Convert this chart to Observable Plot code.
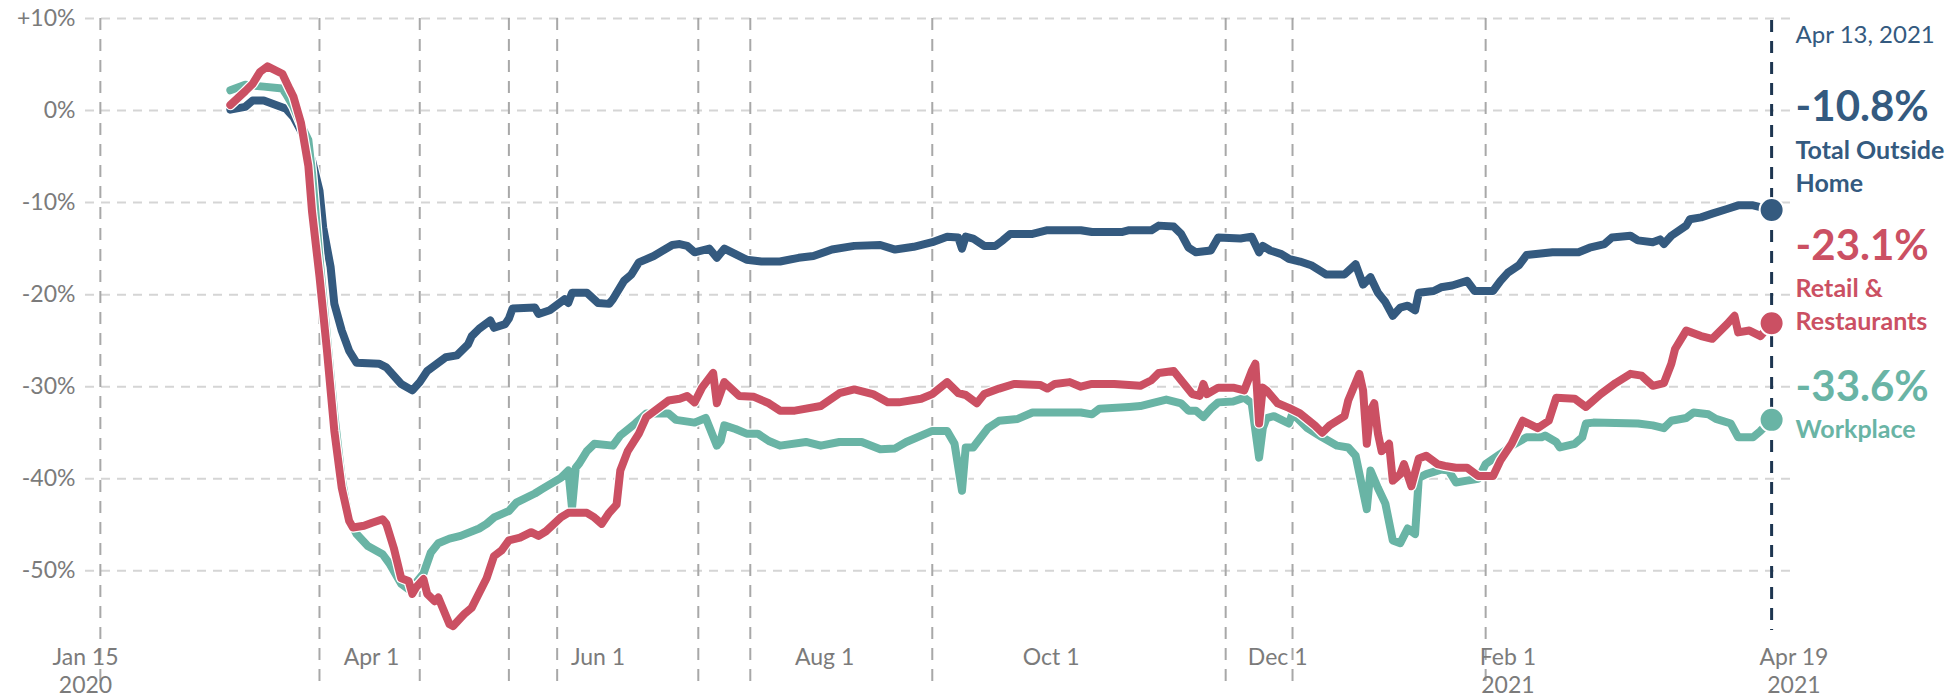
<!DOCTYPE html>
<html><head><meta charset="utf-8">
<script src="https://cdn.jsdelivr.net/npm/d3@7"></script>
<script src="https://cdn.jsdelivr.net/npm/@observablehq/plot@0.6"></script>
<style>
html,body{margin:0;padding:0;background:#fff;}
#chart svg{display:block;}
</style></head><body><div id="chart"></div>
<script>
// ---- data ----
const totalSeries = [["2020-02-23",0.1],["2020-02-27",0.4],["2020-02-29",1.1],["2020-03-03",1.1],["2020-03-07",0.5],["2020-03-09",0.2],["2020-03-11",-0.7],["2020-03-13",-2.2],["2020-03-16",-5.4],["2020-03-18",-8.7],["2020-03-19",-12.7],["2020-03-21",-17],["2020-03-22",-21],["2020-03-24",-23.9],["2020-03-26",-26.1],["2020-03-28",-27.4],["2020-04-03",-27.5],["2020-04-05",-27.9],["2020-04-09",-29.7],["2020-04-12",-30.4],["2020-04-14",-29.5],["2020-04-16",-28.3],["2020-04-19",-27.4],["2020-04-21",-26.8],["2020-04-24",-26.6],["2020-04-27",-25.4],["2020-04-28",-24.5],["2020-04-30",-23.7],["2020-05-03",-22.8],["2020-05-04",-23.6],["2020-05-07",-23.2],["2020-05-08",-22.6],["2020-05-09",-21.5],["2020-05-15",-21.4],["2020-05-16",-22.1],["2020-05-19",-21.7],["2020-05-23",-20.5],["2020-05-24",-20.9],["2020-05-25",-19.8],["2020-05-29",-19.8],["2020-06-01",-20.9],["2020-06-04",-21],["2020-06-05",-20.5],["2020-06-08",-18.5],["2020-06-10",-17.8],["2020-06-12",-16.5],["2020-06-16",-15.8],["2020-06-21",-14.6],["2020-06-23",-14.5],["2020-06-25",-14.7],["2020-06-27",-15.4],["2020-07-01",-15],["2020-07-03",-16],["2020-07-05",-15],["2020-07-08",-15.6],["2020-07-11",-16.2],["2020-07-15",-16.4],["2020-07-20",-16.4],["2020-07-25",-16],["2020-07-29",-15.8],["2020-08-03",-15.1],["2020-08-09",-14.7],["2020-08-16",-14.6],["2020-08-20",-15.1],["2020-08-25",-14.8],["2020-08-30",-14.3],["2020-09-03",-13.7],["2020-09-06",-13.8],["2020-09-07",-15],["2020-09-08",-13.7],["2020-09-10",-13.9],["2020-09-13",-14.7],["2020-09-16",-14.7],["2020-09-18",-14.1],["2020-09-20",-13.4],["2020-09-26",-13.4],["2020-09-30",-13],["2020-10-09",-13],["2020-10-12",-13.2],["2020-10-20",-13.2],["2020-10-22",-13],["2020-10-28",-13],["2020-10-30",-12.5],["2020-11-03",-12.6],["2020-11-05",-13.4],["2020-11-07",-14.9],["2020-11-09",-15.4],["2020-11-13",-15.2],["2020-11-15",-13.8],["2020-11-21",-13.9],["2020-11-24",-13.7],["2020-11-26",-15.4],["2020-11-27",-14.7],["2020-11-29",-15.2],["2020-12-02",-15.6],["2020-12-04",-16.1],["2020-12-07",-16.4],["2020-12-10",-16.8],["2020-12-14",-17.8],["2020-12-19",-17.8],["2020-12-22",-16.7],["2020-12-24",-18.9],["2020-12-26",-18.1],["2020-12-28",-19.8],["2020-12-30",-20.8],["2021-01-01",-22.3],["2021-01-03",-21.4],["2021-01-05",-21.2],["2021-01-07",-21.7],["2021-01-08",-19.8],["2021-01-12",-19.6],["2021-01-14",-19.2],["2021-01-17",-19],["2021-01-21",-18.5],["2021-01-23",-19.6],["2021-01-28",-19.6],["2021-01-30",-18.5],["2021-02-01",-17.6],["2021-02-04",-16.8],["2021-02-06",-15.7],["2021-02-13",-15.4],["2021-02-20",-15.4],["2021-02-23",-14.9],["2021-02-27",-14.5],["2021-03-01",-13.8],["2021-03-06",-13.6],["2021-03-08",-14.1],["2021-03-12",-14.3],["2021-03-14",-14],["2021-03-15",-14.5],["2021-03-17",-13.6],["2021-03-21",-12.5],["2021-03-22",-11.8],["2021-03-25",-11.6],["2021-03-28",-11.2],["2021-04-01",-10.7],["2021-04-04",-10.3],["2021-04-08",-10.3],["2021-04-13",-10.8]];

const retailSeries = [["2020-02-23",0.6],["2020-02-27",2.1],["2020-02-29",2.9],["2020-03-02",4.2],["2020-03-04",4.8],["2020-03-08",4.0],["2020-03-10",2.3],["2020-03-11",1.5],["2020-03-13",-1.3],["2020-03-15",-6],["2020-03-16",-11],["2020-03-18",-18],["2020-03-20",-26],["2020-03-22",-34.8],["2020-03-24",-41],["2020-03-26",-44.6],["2020-03-27",-45.3],["2020-03-30",-45.1],["2020-04-01",-44.8],["2020-04-04",-44.4],["2020-04-05",-44.9],["2020-04-07",-47.5],["2020-04-09",-50.8],["2020-04-11",-51.1],["2020-04-12",-52.5],["2020-04-13",-51.8],["2020-04-15",-50.9],["2020-04-16",-52.5],["2020-04-18",-53.3],["2020-04-19",-52.9],["2020-04-22",-55.8],["2020-04-23",-56],["2020-04-26",-54.7],["2020-04-28",-54],["2020-05-02",-50.8],["2020-05-04",-48.4],["2020-05-06",-47.8],["2020-05-08",-46.7],["2020-05-11",-46.4],["2020-05-14",-45.8],["2020-05-16",-46.2],["2020-05-18",-45.7],["2020-05-22",-44.2],["2020-05-24",-43.7],["2020-05-29",-43.7],["2020-05-31",-44.2],["2020-06-02",-44.9],["2020-06-04",-43.7],["2020-06-06",-42.8],["2020-06-07",-39.1],["2020-06-09",-37],["2020-06-12",-35.1],["2020-06-14",-33.3],["2020-06-20",-31.5],["2020-06-23",-31.3],["2020-06-25",-31],["2020-06-27",-31.7],["2020-06-29",-30.1],["2020-07-02",-28.5],["2020-07-03",-31.8],["2020-07-05",-29.5],["2020-07-09",-31],["2020-07-13",-31.1],["2020-07-17",-31.8],["2020-07-20",-32.6],["2020-07-24",-32.6],["2020-07-31",-32.1],["2020-08-05",-30.7],["2020-08-09",-30.3],["2020-08-14",-30.8],["2020-08-18",-31.7],["2020-08-21",-31.7],["2020-08-27",-31.3],["2020-08-30",-30.8],["2020-09-03",-29.5],["2020-09-06",-30.7],["2020-09-08",-30.9],["2020-09-11",-31.8],["2020-09-13",-30.8],["2020-09-17",-30.2],["2020-09-21",-29.7],["2020-09-28",-29.8],["2020-09-30",-30.2],["2020-10-02",-29.7],["2020-10-06",-29.5],["2020-10-09",-30],["2020-10-12",-29.7],["2020-10-18",-29.7],["2020-10-25",-29.9],["2020-10-28",-29.3],["2020-10-30",-28.5],["2020-11-03",-28.3],["2020-11-05",-29.3],["2020-11-08",-30.8],["2020-11-10",-31],["2020-11-11",-29.7],["2020-11-12",-30.8],["2020-11-15",-30.1],["2020-11-19",-30.1],["2020-11-22",-30.4],["2020-11-24",-28.3],["2020-11-25",-27.5],["2020-11-26",-34],["2020-11-27",-30.1],["2020-11-28",-30.4],["2020-12-01",-31.8],["2020-12-04",-32.3],["2020-12-07",-32.9],["2020-12-11",-34.2],["2020-12-13",-35],["2020-12-15",-34.2],["2020-12-19",-33.2],["2020-12-20",-31.5],["2020-12-23",-28.6],["2020-12-24",-30.4],["2020-12-25",-36.2],["2020-12-26",-32.6],["2020-12-27",-31.8],["2020-12-28",-35.1],["2020-12-29",-37],["2020-12-31",-36.2],["2021-01-01",-40.2],["2021-01-03",-39.5],["2021-01-04",-38.4],["2021-01-06",-40.8],["2021-01-08",-37.8],["2021-01-10",-37.5],["2021-01-13",-38.4],["2021-01-15",-38.6],["2021-01-18",-38.8],["2021-01-21",-38.8],["2021-01-24",-39.7],["2021-01-28",-39.7],["2021-01-30",-38],["2021-02-02",-36.2],["2021-02-05",-33.7],["2021-02-09",-34.5],["2021-02-12",-33.7],["2021-02-14",-31.2],["2021-02-19",-31.3],["2021-02-22",-32.2],["2021-02-26",-30.8],["2021-03-02",-29.6],["2021-03-06",-28.6],["2021-03-09",-28.8],["2021-03-12",-29.9],["2021-03-15",-29.6],["2021-03-17",-27.5],["2021-03-18",-25.9],["2021-03-21",-23.9],["2021-03-25",-24.5],["2021-03-28",-24.8],["2021-04-01",-23.2],["2021-04-03",-22.3],["2021-04-04",-24.1],["2021-04-07",-23.9],["2021-04-10",-24.5],["2021-04-13",-23.1]];

const workplaceSeries = [["2020-02-23",2.2],["2020-02-27",2.8],["2020-03-03",2.6],["2020-03-08",2.4],["2020-03-09",1.8],["2020-03-11",0.4],["2020-03-13",-1.5],["2020-03-15",-3.2],["2020-03-16",-6.8],["2020-03-18",-16],["2020-03-20",-24.5],["2020-03-22",-33],["2020-03-24",-40],["2020-03-26",-44.5],["2020-03-28",-46],["2020-03-31",-47.3],["2020-04-04",-48.2],["2020-04-06",-49.3],["2020-04-09",-51.4],["2020-04-11",-52],["2020-04-13",-51.3],["2020-04-15",-50.3],["2020-04-17",-48],["2020-04-19",-47],["2020-04-22",-46.5],["2020-04-25",-46.2],["2020-04-30",-45.4],["2020-05-02",-44.9],["2020-05-04",-44.2],["2020-05-08",-43.5],["2020-05-10",-42.6],["2020-05-15",-41.6],["2020-05-17",-41.1],["2020-05-22",-39.9],["2020-05-24",-39.1],["2020-05-25",-43.2],["2020-05-26",-38.8],["2020-05-27",-38.3],["2020-05-29",-37],["2020-05-31",-36.2],["2020-06-05",-36.4],["2020-06-07",-35.3],["2020-06-11",-34],["2020-06-14",-32.9],["2020-06-20",-32.9],["2020-06-22",-33.6],["2020-06-27",-33.9],["2020-06-30",-33.4],["2020-07-03",-36.4],["2020-07-04",-35.9],["2020-07-05",-34.2],["2020-07-08",-34.6],["2020-07-11",-35.1],["2020-07-14",-35.1],["2020-07-17",-35.9],["2020-07-20",-36.4],["2020-07-27",-36],["2020-07-31",-36.4],["2020-08-05",-36],["2020-08-11",-36],["2020-08-16",-36.8],["2020-08-20",-36.7],["2020-08-23",-36],["2020-08-30",-34.8],["2020-09-03",-34.8],["2020-09-05",-36.2],["2020-09-07",-41.3],["2020-09-08",-36.6],["2020-09-10",-36.6],["2020-09-14",-34.5],["2020-09-17",-33.7],["2020-09-22",-33.5],["2020-09-26",-32.8],["2020-10-09",-32.8],["2020-10-12",-33],["2020-10-14",-32.4],["2020-10-22",-32.2],["2020-10-25",-32.1],["2020-10-29",-31.7],["2020-11-01",-31.4],["2020-11-05",-31.8],["2020-11-07",-32.6],["2020-11-09",-32.6],["2020-11-11",-33.3],["2020-11-13",-32.4],["2020-11-15",-31.7],["2020-11-19",-31.6],["2020-11-22",-31.2],["2020-11-24",-31.8],["2020-11-26",-37.7],["2020-11-27",-34.5],["2020-11-28",-33.4],["2020-11-30",-33.2],["2020-12-04",-34],["2020-12-05",-32.9],["2020-12-09",-34.5],["2020-12-13",-35.5],["2020-12-17",-36.4],["2020-12-20",-36.6],["2020-12-22",-37.5],["2020-12-25",-43.3],["2020-12-26",-39.1],["2020-12-28",-41],["2020-12-30",-42.7],["2021-01-01",-46.7],["2021-01-03",-47],["2021-01-05",-45.4],["2021-01-07",-46],["2021-01-08",-39.9],["2021-01-10",-39.5],["2021-01-14",-39],["2021-01-16",-39.1],["2021-01-18",-40.4],["2021-01-21",-40.2],["2021-01-24",-40],["2021-01-26",-38.4],["2021-01-30",-37.3],["2021-02-02",-36.4],["2021-02-06",-35.5],["2021-02-10",-35.5],["2021-02-11",-35.3],["2021-02-14",-36],["2021-02-15",-36.6],["2021-02-19",-36.2],["2021-02-21",-35.5],["2021-02-22",-34],["2021-02-24",-33.9],["2021-03-08",-34],["2021-03-12",-34.2],["2021-03-15",-34.5],["2021-03-17",-33.7],["2021-03-21",-33.4],["2021-03-23",-32.8],["2021-03-27",-33],["2021-03-29",-33.5],["2021-04-02",-34],["2021-04-04",-35.5],["2021-04-08",-35.5],["2021-04-10",-34.8],["2021-04-13",-33.6]];

const seriesNames = ["Total Outside\nHome", "Retail &\nRestaurants", "Workplace"];
const yTicks = [10, 0, -10, -20, -30, -40, -50];
const xTickDates = ["2020-01-15","2020-04-01","2020-06-01","2020-08-01","2020-10-01","2020-12-01","2021-02-01","2021-04-19"];
const xTickLabels = ["Jan 15\n2020","Apr 1","Jun 1","Aug 1","Oct 1","Dec 1","Feb 1\n2021","Apr 19\n2021"];
const eventDates = ["2020-01-19","2020-03-18","2020-04-14","2020-05-08","2020-05-21","2020-06-28","2020-07-12","2020-08-30","2020-11-17","2020-12-05","2021-01-26"];

// ---- styles ----
const colors = ["#345a7f", "#cb5063", "#69b4a5"];
const drawOrder = [0, 2, 1];
const valueDy = [-102, -77, -32];
const nameGap = 27;
const FONT = "Lato, 'Open Sans', sans-serif";

const parse = d3.utcParse("%Y-%m-%d");
const allSeries = [totalSeries, retailSeries, workplaceSeries].map((s, i) =>
  s.map(([d, v]) => ({date: parse(d), value: v, key: i})));
const lastRows = allSeries.map(s => s[s.length - 1]);
const lastDate = lastRows[0].date;
const xTicks = xTickDates.map((d, i) => ({date: parse(d), label: xTickLabels[i]}));

const marks = [
  Plot.ruleY(yTicks, {stroke: "#d5d5d5", strokeWidth: 2, strokeDasharray: "9,7"}),
  Plot.ruleX(eventDates.map(parse), {stroke: "#a8a8a8", strokeWidth: 2, strokeDasharray: "12,9"}),
  Plot.ruleX([lastDate], {stroke: "#1d3550", strokeWidth: 3, strokeDasharray: "12,9", insetTop: 2, insetBottom: 60}),
  Plot.axisY({ticks: yTicks, tickSize: 0, tickPadding: 10, label: null,
    tickFormat: d => (d > 0 ? "+" : "") + d + "%", fontSize: 23, color: "#7b7b7b"}),
  Plot.text(xTicks, {x: "date", text: "label", frameAnchor: "bottom", lineAnchor: "top",
    dy: -45, fontSize: 23, fill: "#7b7b7b", lineHeight: 1.2})
];

for (const i of drawOrder) {
  marks.push(Plot.line(allSeries[i], {x: "date", y: "value", stroke: "white", strokeWidth: 10.5, strokeLinejoin: "round", strokeLinecap: "round"}));
  marks.push(Plot.line(allSeries[i], {x: "date", y: "value", stroke: colors[i], strokeWidth: 8, strokeLinejoin: "round", strokeLinecap: "round"}));
}
lastRows.forEach((r, i) => {
  marks.push(Plot.dot([r], {x: "date", y: "value", r: 12, fill: colors[i], stroke: "white", strokeWidth: 2}));
  marks.push(Plot.text([r], {x: "date", y: "value", text: d => d.value.toFixed(1) + "%",
    dx: 24, dy: valueDy[i], textAnchor: "start", fontSize: 42, fontWeight: 700, fill: colors[i]}));
  marks.push(Plot.text([r], {x: "date", y: "value", text: () => seriesNames[i],
    dx: 24, dy: valueDy[i] + nameGap, lineAnchor: "top", textAnchor: "start", fontSize: 25, fontWeight: 700,
    lineHeight: 1.33, fill: colors[i]}));
});
marks.push(Plot.text([lastDate], {x: d => d, text: d => d3.utcFormat("%b %-d, %Y")(d),
  frameAnchor: "top", lineAnchor: "middle", dx: 24, dy: 17, textAnchor: "start", fontSize: 24, fill: colors[0]}));

const chart = Plot.plot({
  width: 1957, height: 697,
  marginLeft: 85, marginRight: 163.6, marginTop: 18, marginBottom: 7,
  style: {fontFamily: FONT, background: "#fff", overflow: "visible"},
  x: {type: "utc", domain: [parse("2020-01-15"), parse("2021-04-19")], axis: null},
  y: {domain: [-63, 10], axis: null},
  marks
});
document.getElementById("chart").appendChild(chart);
</script>
</body></html>
